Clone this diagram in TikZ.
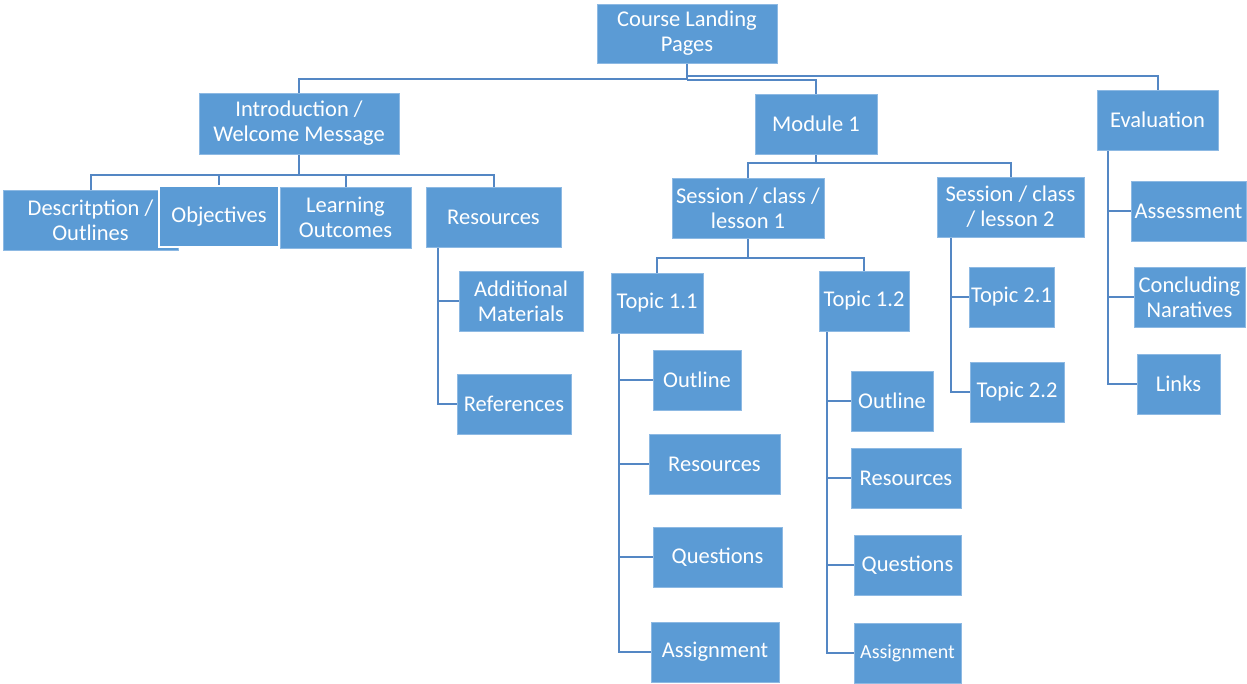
\documentclass[tikz,border=0pt]{standalone}
\usepackage{fontspec}
\setmainfont{Carlito}
\usetikzlibrary{backgrounds}
\definecolor{boxblue}{HTML}{5B9BD5}
\definecolor{boxedge}{HTML}{8DB9E3}
\definecolor{connblue}{HTML}{5487C4}
\tikzset{
  box/.style={fill=boxblue, draw=boxedge, line width=0.8pt, text=white, align=center, inner sep=0pt,
    font=\fontsize{22.5}{25}\selectfont},
  whitebox/.style={box, draw=white, line width=1.2pt},
  conn/.style={draw=connblue, line width=2pt}
}
% \bx[options]{name}{x1}{y1}{x2}{y2}{text}
\newcommand\bx[6][]{\node[box, minimum width={(#4-#2)*1pt}, minimum height={(#5-#3)*1pt}, #1] (#2n#6) at ({(#2+#4)/2},{(#3+#5)/2}) {};}
\newcommand\mybox[7][]{\node[box, minimum width={(#5-#3)*1pt}, minimum height={(#6-#4)*1pt}, #1] (#2) at ({(#3+#5)/2},{(#4+#6)/2}) {#7};}
\begin{document}
\begin{tikzpicture}[x=1pt, y=-1pt]
\useasboundingbox (0,0) rectangle (1247,684);
% nodes
\mybox{root}{597}{4}{777}{63}{Course Landing\\Pages}
\mybox{intro}{199}{93}{399}{154}{Introduction /\\Welcome Message}
\mybox{mod}{755}{94}{877}{154}{Module 1}
\mybox{eval}{1097}{90}{1218}{150}{Evaluation}
% intro children
\mybox{desc}{3}{190}{178}{250}{Descritption /\\Outlines}
\mybox[whitebox]{obj}{159}{186}{279}{247}{Objectives}
\mybox{lo}{280}{187}{411}{248}{Learning\\Outcomes}
\mybox{ires}{426}{187}{561}{247}{Resources}
\mybox{addm}{459}{271}{583}{331}{Additional\\Materials}
\mybox{refs}{457}{374}{571}{434}{References}
% module children
\mybox{s1}{672}{178}{824}{238}{Session / class /\\lesson 1}
\mybox{s2}{937}{177}{1084}{237}{Session / class\\/ lesson 2}
\mybox{t11}{611}{273}{703}{333}{Topic 1.1}
\mybox{t12}{819}{271}{909}{331}{Topic 1.2}
\mybox{t21}{969}{267}{1054}{327}{Topic 2.1}
\mybox{t22}{970}{362}{1064}{422}{Topic 2.2}
% topic 1.1 children
\mybox{ao}{653}{350}{741}{410}{Outline}
\mybox{ar}{649}{434}{780}{494}{Resources}
\mybox{aq}{653}{527}{782}{587}{Questions}
\mybox{aa}{651}{622}{779}{682}{Assignment}
% topic 1.2 children
\mybox{bo}{851}{371}{933}{431}{Outline}
\mybox{br}{851}{448}{961}{508}{Resources}
\mybox{bq}{854}{535}{961}{595}{Questions}
\mybox[font=\fontsize{20}{24}\selectfont]{ba}{854}{623}{961}{683}{Assignment}
% evaluation children
\mybox{ass}{1131}{181}{1246}{241}{Assessment}
\mybox{conc}{1134}{267}{1245}{327}{Concluding\\Naratives}
\mybox{links}{1137}{354}{1220}{414}{Links}
% connectors
\begin{scope}[on background layer]
\draw[conn] (root.south) -- (root.south |- 0,80);
\draw[conn] (root.south |- 0,79) -| (intro.north);
\draw[conn] (root.south |- 0,80) -| (mod.north);
\draw[conn] (root.south |- 0,76) -| (eval.north);
% intro
\draw[conn] (intro.south) -- (intro.south |- 0,175);
\draw[conn] (intro.south |- 0,175) -| (desc.north);
\draw[conn] (intro.south |- 0,175) -| (obj.north);
\draw[conn] (intro.south |- 0,175) -| (lo.north);
\draw[conn] (intro.south |- 0,175) -| (ires.north);
\draw[conn] ([xshift=12pt]ires.south west) |- (addm.west);
\draw[conn] ([xshift=12pt]ires.south west) |- (refs.west);
% module
\draw[conn] (mod.south) -- (mod.south |- 0,163);
\draw[conn] (mod.south |- 0,163) -| (s1.north);
\draw[conn] (mod.south |- 0,163) -| (s2.north);
\draw[conn] (s1.south) -- (s1.south |- 0,258);
\draw[conn] (s1.south |- 0,258) -| (t11.north);
\draw[conn] (s1.south |- 0,258) -| (t12.north);
\draw[conn] ([xshift=14pt]s2.south west) |- (t21.west);
\draw[conn] ([xshift=14pt]s2.south west) |- (t22.west);
% topic 1.1
\draw[conn] ([xshift=8pt]t11.south west) |- (ao.west);
\draw[conn] ([xshift=8pt]t11.south west) |- (ar.west);
\draw[conn] ([xshift=8pt]t11.south west) |- (aq.west);
\draw[conn] ([xshift=8pt]t11.south west) |- (aa.west);
% topic 1.2
\draw[conn] ([xshift=8pt]t12.south west) |- (bo.west);
\draw[conn] ([xshift=8pt]t12.south west) |- (br.west);
\draw[conn] ([xshift=8pt]t12.south west) |- (bq.west);
\draw[conn] ([xshift=8pt]t12.south west) |- (ba.west);
% evaluation
\draw[conn] ([xshift=11pt]eval.south west) |- (ass.west);
\draw[conn] ([xshift=11pt]eval.south west) |- (conc.west);
\draw[conn] ([xshift=11pt]eval.south west) |- (links.west);
\end{scope}
\end{tikzpicture}
\end{document}
